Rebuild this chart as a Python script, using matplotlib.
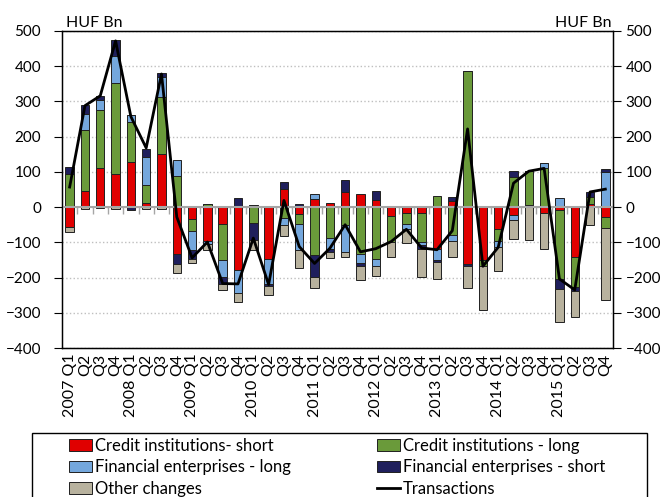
import numpy as np
import matplotlib
matplotlib.use("Agg")
from matplotlib import pyplot as plt
from matplotlib.patches import Rectangle

plt.rcParams['font.family'] = ['Lato', 'DejaVu Sans']

years = ['2007', '2008', '2009', '2010', '2011', '2012', '2013', '2014', '2015']
quarters = ['Q1', 'Q2', 'Q3', 'Q4']

# HUF Bn, 2007 Q1 .. 2015 Q4
credit_short = [-57, 47, 111, 94, 127, 12, 151, -134, -33, -97, -47, -179,
                5, -146, 52, -19, 24, 12, 43, 38, 21, -24, -16, -16,
                -120, 17, -161, -151, -62, -21, 6, -16, -9, -142, 8, -27]
credit_long = [94, 172, 164, 258, 114, 52, 163, 87, -36, 9, -102, 0,
               -45, 0, -30, -30, -137, -87, -50, -133, -147, -75, -31, -83,
               32, -80, 386, -15, -33, 85, 96, 112, -195, -85, 20, -32]
fin_long = [0, 45, 29, 77, 21, 79, 54, 47, -54, -9, -49, -64,
            0, -71, -20, -72, 14, -31, -78, -26, -19, 0, -15, -9,
            -29, -15, 0, 0, -17, -15, 0, 13, 27, 0, 0, 101]
fin_short = [19, 26, 11, 45, -8, 22, 12, -28, -23, 0, -19, 25,
             -47, -8, 19, 8, -62, -10, 33, -7, 24, 3, 0, -10,
             -6, 13, -5, 0, 0, 17, 0, 0, -28, -10, 15, 7]
other = [-14, -5, -3, -5, 0, -5, -5, -25, -12, -17, -17, -27,
         -30, -25, -33, -51, -30, -16, -14, -42, -31, -44, -39, -80,
         -50, -47, -63, -126, -70, -54, -92, -102, -93, -74, -50, -206]
transactions = [57, 288, 316, 472, 257, 168, 378, -28, -144, -99, -217, -218,
                -88, -220, 19, -112, -160, -117, -50, -127, -118, -98, -63, -116,
                -121, -67, 222, -168, -114, 68, 102, 110, -204, -235, 43, 51]

series = [
    ('Credit institutions- short', credit_short, '#E00000'),
    ('Credit institutions - long', credit_long, '#6A9A3A'),
    ('Financial enterprises - long', fin_long, '#74A7DC'),
    ('Financial enterprises - short', fin_short, '#1F1F5C'),
    ('Other changes', other, '#B8B29E'),
]

labels = []
for y in years:
    for q in quarters:
        labels.append(y + ' ' + q if q == 'Q1' else q)

x = np.arange(len(labels))

fig = plt.figure(figsize=(6.65, 4.97), dpi=100)
ax = fig.add_axes([62/665, 1-348/497, (613-62)/665, (348-31)/497])

pos_base = np.zeros(len(x))
neg_base = np.zeros(len(x))
handles = {}
for name, vals, col in series:
    v = np.array(vals, dtype=float)
    base = np.where(v >= 0, pos_base, neg_base)
    b = ax.bar(x, v, bottom=base, width=0.55, color=col, edgecolor='#202020',
               linewidth=0.7, zorder=3, label=name)
    handles[name] = b
    pos_base += np.where(v >= 0, v, 0)
    neg_base += np.where(v < 0, v, 0)

ax.axhline(0, color='#A6A6A6', lw=1.5, zorder=4)
line, = ax.plot(x, transactions, color='black', lw=2.0, zorder=5, label='Transactions')

ax.set_xlim(-0.5, len(x) - 0.5)
ax.set_ylim(-400, 500)
ax.set_yticks(range(-400, 501, 100))
ax.yaxis.grid(True, linestyle=':', color='#BFBFBF', lw=1.0, zorder=0)
ax.set_xticks(x)
ax.set_xticklabels(labels, rotation=90, fontsize=11.5)
ax.tick_params(axis='x', length=0, pad=4)
ax.tick_params(axis='y', direction='out', length=6, labelsize=11, pad=9)
for s in ax.spines.values():
    s.set_color('black')
    s.set_linewidth(1.0)

# category boundary ticks on the zero line
zero_frac = 400 / 900
sec = ax.secondary_xaxis(zero_frac)
sec.set_xticks(x[:-1] + 0.5)
sec.tick_params(axis='x', direction='out', length=5, color='#A6A6A6',
                labelbottom=False, labeltop=False, bottom=True, top=False, width=1)
sec.spines['bottom'].set_visible(False)
sec.spines['top'].set_visible(False)

ax2 = ax.twinx()
ax2.set_ylim(-400, 500)
ax2.set_yticks(range(-400, 501, 100))
ax2.tick_params(axis='y', direction='out', length=6, labelsize=11, pad=3)
ax2.spines['right'].set_color('black')

ax.text(0.008, 1.004, 'HUF Bn', transform=ax.transAxes, fontsize=11.5,
        ha='left', va='bottom')
ax.text(0.998, 1.004, 'HUF Bn', transform=ax.transAxes, fontsize=11.5,
        ha='right', va='bottom')

order = [handles['Credit institutions- short'], handles['Financial enterprises - long'],
         handles['Other changes'], handles['Credit institutions - long'],
         handles['Financial enterprises - short'], line]
names = ['Credit institutions- short', 'Financial enterprises - long', 'Other changes',
         'Credit institutions - long', 'Financial enterprises - short', 'Transactions']
fig.legend(order, names, loc='upper left', bbox_to_anchor=(69/665, 1-438/497),
           ncol=2, frameon=False, fontsize=12, handlelength=1.35,
           handleheight=0.7, handletextpad=0.2, labelspacing=0.32,
           columnspacing=5.2, borderpad=0, borderaxespad=0)

fig.patches.append(Rectangle((32/665, -0.01), (647-32)/665, 1-433/497+0.01,
                             transform=fig.transFigure, fill=False,
                             edgecolor='black', lw=1.0))

fig.savefig('out.png', dpi=100)
